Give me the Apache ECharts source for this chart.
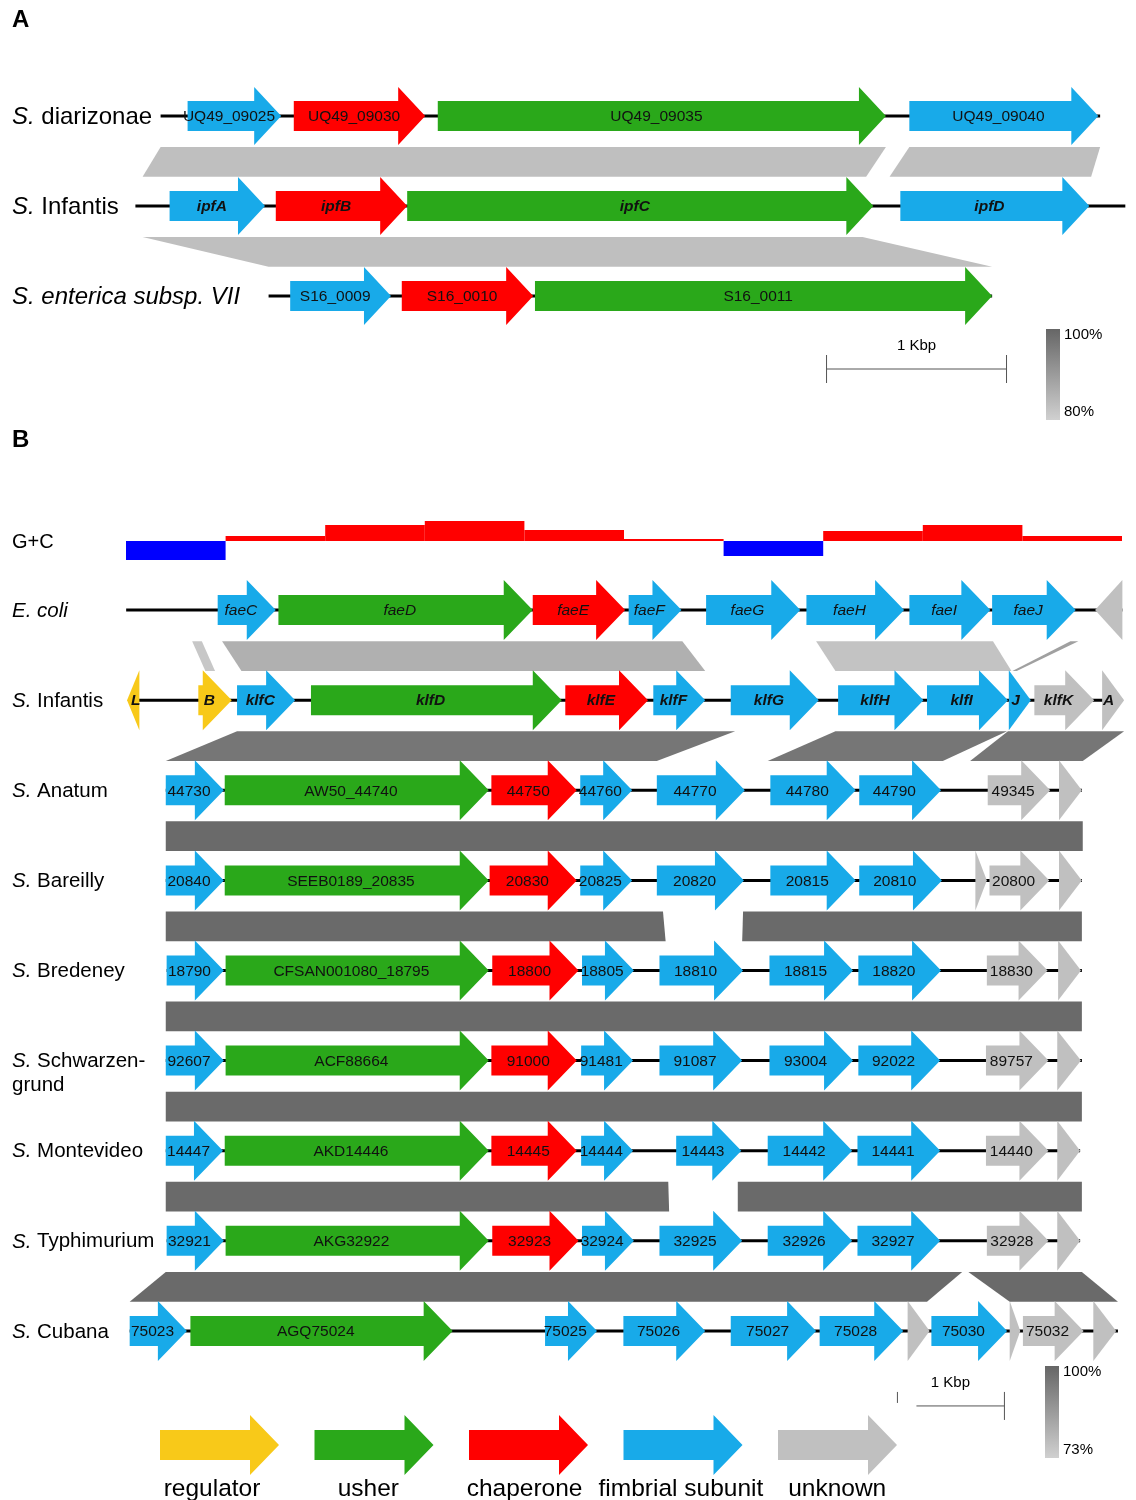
<!DOCTYPE html>
<html>
<head>
<meta charset="utf-8">
<title>ipf / klf fimbrial gene clusters</title>
<script src="https://cdn.jsdelivr.net/npm/echarts@6/dist/echarts.min.js"></script>
<style>
html, body { margin: 0; padding: 0; background: #fff; }
#chart { width: 1136px; height: 1500px; }
</style>
</head>
<body>
<div id="chart"></div>
<script>
var FONT = 'Liberation Sans, Arial, sans-serif';

// gene class colours
var typeColors = { reg: '#f8c919', ush: '#2aa81a', cha: '#ff0000', fim: '#18aae9', unk: '#c0c0c0' };
var legendTypes = ['reg', 'ush', 'cha', 'fim', 'unk'];
var legendNames = ['regulator', 'usher', 'chaperone', 'fimbrial subunit', 'unknown'];

// ---------- panel A : positions in bp ----------
var rowsA = ['{i|S.}{n| diarizonae}', '{i|S.}{n| Infantis}', '{i|S. enterica subsp. VII}'];
var linesA = [[170, 5390], [30, 5530], [770, 4790]];
var geneFontA = ['plain', 'bolditalic', 'plain'];
var diarizonaeGenes = [
    ['UQ49_09025', 320, 840, 'fim'],
    ['UQ49_09030', 910, 1640, 'cha'],
    ['UQ49_09035', 1710, 4200, 'ush'],
    ['UQ49_09040', 4330, 5380, 'fim']
];
var infantisAGenes = [
    ['ipfA', 220, 750, 'fim'],
    ['ipfB', 810, 1540, 'cha'],
    ['ipfC', 1540, 4130, 'ush'],
    ['ipfD', 4280, 5330, 'fim']
];
var enterica7Genes = [
    ['S16_0009', 890, 1450, 'fim'],
    ['S16_0010', 1510, 2240, 'cha'],
    ['S16_0011', 2250, 4790, 'ush']
];
// [upper row, top start, top end, bottom start, bottom end, identity %]
var bandsA = [
    [0, 170, 4200, 70, 4090, 83],
    [0, 4330, 5390, 4220, 5340, 83],
    [1, 70, 4070, 770, 4790, 83]
];
var scaleA = [3870, 4870];

// ---------- panel B ----------
var gcWindows = ['1', '2', '3', '4', '5', '6', '7', '8', '9', '10'];
var gcValues = [-1.9, 0.5, 1.6, 2.0, 1.1, 0.2, -1.5, 1.0, 1.6, 0.5];

var rowsB = ['{i|E. coli}', '{i|S.}{n| Infantis}', '{i|S.}{n| Anatum}', '{i|S.}{n| Bareilly}',
    '{i|S.}{n| Bredeney}', '{i|S.}{n| Schwarzen-}\n{n|grund}', '{i|S.}{n| Montevideo}',
    '{i|S.}{n| Typhimurium}', '{i|S.}{n| Cubana}'];
var linesB = [[70, 11390], [110, 11390], [520, 10930], [520, 10930], [530, 10930],
    [520, 10930], [520, 10910], [530, 10910], [110, 11340]];
var geneFontB = ['italic', 'bolditalic', 'plain', 'plain', 'plain', 'plain', 'plain', 'plain', 'plain'];

var ecoliGenes = [
    ['faeC', 1110, 1770, 'fim'], ['faeD', 1800, 4690, 'ush'], ['faeE', 4690, 5740, 'cha'],
    ['faeF', 5780, 6380, 'fim'], ['faeG', 6660, 7730, 'fim'], ['faeH', 7800, 8910, 'fim'],
    ['faeI', 8970, 9890, 'fim'], ['faeJ', 9910, 10860, 'fim'], ['', 11080, 11390, 'unk', -1]
];
var infantisBGenes = [
    ['L', 80, 220, 'reg', -1], ['B', 890, 1270, 'reg'], ['klfC', 1330, 1990, 'fim'],
    ['klfD', 2170, 5020, 'ush'], ['klfE', 5060, 6000, 'cha'], ['klfF', 6060, 6650, 'fim'],
    ['klfG', 6940, 7940, 'fim'], ['klfH', 8160, 9130, 'fim'], ['klfI', 9170, 10090, 'fim'],
    ['J', 10100, 10350, 'fim'], ['klfK', 10390, 11070, 'unk'], ['A', 11160, 11410, 'unk']
];
var anatumGenes = [
    ['44730', 520, 1180, 'fim'], ['AW50_44740', 1190, 4190, 'ush'], ['44750', 4220, 5190, 'cha'],
    ['44760', 5230, 5820, 'fim'], ['44770', 6100, 7100, 'fim'], ['44780', 7390, 8360, 'fim'],
    ['44790', 8400, 9330, 'fim'], ['49345', 9860, 10570, 'unk'], ['', 10670, 10930, 'unk']
];
var bareillyGenes = [
    ['20840', 520, 1180, 'fim'], ['SEEB0189_20835', 1190, 4190, 'ush'], ['20830', 4200, 5190, 'cha'],
    ['20825', 5230, 5820, 'fim'], ['20820', 6100, 7090, 'fim'], ['20815', 7390, 8360, 'fim'],
    ['20810', 8400, 9340, 'fim'], ['', 9720, 9850, 'unk'], ['20800', 9880, 10560, 'unk'],
    ['', 10670, 10930, 'unk']
];
var bredeneyGenes = [
    ['18790', 530, 1180, 'fim'], ['CFSAN001080_18795', 1200, 4190, 'ush'], ['18800', 4230, 5210, 'cha'],
    ['18805', 5250, 5840, 'fim'], ['18810', 6130, 7080, 'fim'], ['18815', 7380, 8330, 'fim'],
    ['18820', 8390, 9330, 'fim'], ['18830', 9850, 10540, 'unk'], ['', 10660, 10920, 'unk']
];
var schwarzGenes = [
    ['92607', 520, 1180, 'fim'], ['ACF88664', 1200, 4190, 'ush'], ['91000', 4220, 5190, 'cha'],
    ['91481', 5240, 5830, 'fim'], ['91087', 6130, 7070, 'fim'], ['93004', 7380, 8330, 'fim'],
    ['92022', 8390, 9320, 'fim'], ['89757', 9840, 10550, 'unk'], ['', 10650, 10920, 'unk']
];
var montevideoGenes = [
    ['14447', 520, 1170, 'fim'], ['AKD14446', 1190, 4190, 'ush'], ['14445', 4220, 5190, 'cha'],
    ['14444', 5240, 5830, 'fim'], ['14443', 6320, 7060, 'fim'], ['14442', 7360, 8320, 'fim'],
    ['14441', 8380, 9320, 'fim'], ['14440', 9840, 10550, 'unk'], ['', 10650, 10910, 'unk']
];
var typhimuriumGenes = [
    ['32921', 530, 1180, 'fim'], ['AKG32922', 1200, 4190, 'ush'], ['32923', 4230, 5210, 'cha'],
    ['32924', 5250, 5840, 'fim'], ['32925', 6130, 7070, 'fim'], ['32926', 7360, 8320, 'fim'],
    ['32927', 8380, 9320, 'fim'], ['32928', 9850, 10550, 'unk'], ['', 10650, 10910, 'unk']
];
var cubanaGenes = [
    ['75023', 110, 760, 'fim'], ['AGQ75024', 800, 3780, 'ush'], ['75025', 4830, 5420, 'fim'],
    ['75026', 5720, 6650, 'fim'], ['75027', 6940, 7910, 'fim'], ['75028', 7950, 8900, 'fim'],
    ['', 8950, 9200, 'unk'], ['75030', 9220, 10080, 'fim'], ['', 10110, 10230, 'unk'],
    ['75032', 10260, 10950, 'unk'], ['', 11060, 11320, 'unk']
];
var bandsB = [
    [0, 820, 930, 970, 1080, 75],
    [0, 1160, 6390, 1380, 6650, 81],
    [0, 7910, 9920, 8130, 10130, 76],
    [0, 10800, 10890, 10140, 10190, 85],
    [1, 1330, 6990, 520, 6100, 96],
    [1, 8130, 10080, 7360, 9350, 96],
    [1, 10090, 11410, 9660, 10940, 96],
    [2, 520, 10940, 520, 10940, 99],
    [3, 520, 6170, 520, 6200, 99],
    [3, 7080, 10930, 7070, 10930, 99],
    [4, 520, 10930, 520, 10930, 99],
    [5, 520, 10930, 520, 10930, 99],
    [6, 520, 6230, 520, 6240, 99],
    [6, 7020, 10930, 7020, 10930, 99],
    [7, 520, 9570, 110, 9170, 99],
    [7, 9640, 10930, 10110, 11340, 99]
];
var scaleB = [9050, 10050];

function flatten(rows, fonts) {
    var out = [];
    rows.forEach(function (genes, r) {
        genes.forEach(function (g) {
            out.push({ label: g[0], start: g[1], end: g[2], type: g[3], dir: g[4] || 1, row: r, font: fonts[r] });
        });
    });
    return out;
}
var genesA = flatten([diarizonaeGenes, infantisAGenes, enterica7Genes], geneFontA);
var genesB = flatten([ecoliGenes, infantisBGenes, anatumGenes, bareillyGenes, bredeneyGenes,
    schwarzGenes, montevideoGenes, typhimuriumGenes, cubanaGenes], geneFontB);

var sizesA = { head: 27, body: 15, tip: 29 };
var sizesB = { head: 29, body: 15, tip: 30 };

function arrowPoints(x0, x1, y, dir, s) {
    var h = Math.min(s.head, x1 - x0);
    if (dir > 0) {
        var hx = x1 - h;
        return [[x0, y - s.body], [hx, y - s.body], [hx, y - s.tip], [x1, y],
            [hx, y + s.tip], [hx, y + s.body], [x0, y + s.body]];
    }
    var rx = x0 + h;
    return [[x1, y - s.body], [rx, y - s.body], [rx, y - s.tip], [x0, y],
        [rx, y + s.tip], [rx, y + s.body], [x1, y + s.body]];
}

function geneLayer(genes, gi, s) {
    return {
        type: 'custom', xAxisIndex: gi, yAxisIndex: gi, z: 3, silent: true,
        data: genes.map(function (g) { return [g.start, g.end, g.row]; }),
        encode: { x: [0, 1], y: 2 },
        renderItem: function (params, api) {
            var g = genes[params.dataIndex];
            var a = api.coord([g.start, g.row]);
            var b = api.coord([g.end, g.row]);
            return {
                type: 'polygon',
                shape: { points: arrowPoints(a[0], b[0], a[1], g.dir, s) },
                style: { fill: typeColors[g.type] }
            };
        }
    };
}

function labelLayer(genes, gi, s) {
    return {
        type: 'custom', xAxisIndex: gi, yAxisIndex: gi, z: 5, silent: true,
        data: genes.map(function (g) { return [g.start, g.end, g.row]; }),
        encode: { x: [0, 1], y: 2 },
        renderItem: function (params, api) {
            var g = genes[params.dataIndex];
            var a = api.coord([g.start, g.row]);
            var b = api.coord([g.end, g.row]);
            var h = Math.min(s.head, b[0] - a[0]);
            var cx = g.dir > 0 ? (a[0] + b[0] - 0.4 * h) / 2 : (a[0] + b[0] + 0.4 * h) / 2;
            return {
                type: 'text',
                style: {
                    text: g.label, x: cx, y: a[1] + 1, align: 'center', verticalAlign: 'middle',
                    fill: '#111', fontSize: 15.5, fontFamily: FONT,
                    fontStyle: g.font === 'plain' ? 'normal' : 'italic',
                    fontWeight: g.font === 'bolditalic' ? 'bold' : 'normal'
                }
            };
        }
    };
}

function trackLayer(names, lines, gi, fs, lh) {
    var rich = {
        i: { fontStyle: 'italic', fontSize: fs, fontFamily: FONT, fill: '#000', lineHeight: lh },
        n: { fontStyle: 'normal', fontSize: fs, fontFamily: FONT, fill: '#000', lineHeight: lh }
    };
    return {
        type: 'custom', xAxisIndex: gi, yAxisIndex: gi, z: 2, silent: true,
        data: lines.map(function (l, i) { return [l[0], l[1], i]; }),
        encode: { x: [0, 1], y: 2 },
        renderItem: function (params, api) {
            var i = params.dataIndex;
            var a = api.coord([lines[i][0], i]);
            var b = api.coord([lines[i][1], i]);
            return {
                type: 'group',
                children: [
                    { type: 'line', shape: { x1: a[0], y1: a[1], x2: b[0], y2: b[1] },
                        style: { stroke: '#000', lineWidth: 3 } },
                    { type: 'text', style: { text: names[i], x: 12, y: a[1] - lh / 2 + 1,
                        align: 'left', verticalAlign: 'top', rich: rich,
                        fontSize: fs, fontFamily: FONT, lineHeight: lh } }
                ]
            };
        }
    };
}

function identityGray(id, lo) {
    var v = Math.round(207 - (id - lo) / (100 - lo) * 105);
    return 'rgb(' + v + ',' + v + ',' + v + ')';
}

function bandLayer(bands, gi, lo) {
    return {
        type: 'custom', xAxisIndex: gi, yAxisIndex: gi, z: 1, silent: true,
        data: bands.map(function (b) { return [b[1], b[2], b[0]]; }),
        encode: { x: [0, 1], y: 2 },
        renderItem: function (params, api) {
            var b = bands[params.dataIndex];
            var rowH = api.size([0, 1])[1];
            var c = api.coord([0, b[0]]);
            var yt = c[1] + 0.345 * rowH, yb = c[1] + 0.675 * rowH;
            return {
                type: 'polygon',
                shape: { points: [
                    [api.coord([b[1], b[0]])[0], yt], [api.coord([b[2], b[0]])[0], yt],
                    [api.coord([b[4], b[0]])[0], yb], [api.coord([b[3], b[0]])[0], yb]
                ] },
                style: { fill: identityGray(b[5], lo) }
            };
        }
    };
}

function scaleLayer(sc, gi, row, off, textOff, leftTick) {
    return {
        type: 'custom', xAxisIndex: gi, yAxisIndex: gi, z: 2, silent: true,
        data: [[sc[0], sc[1], row]],
        encode: { x: [0, 1], y: 2 },
        renderItem: function (params, api) {
            var a = api.coord([sc[0], row]);
            var b = api.coord([sc[1], row]);
            var y = a[1] + off;
            var kids = [
                { type: 'line', shape: { x1: a[0], y1: y, x2: b[0], y2: y }, style: { stroke: '#555', lineWidth: 1 } },
                { type: 'line', shape: { x1: b[0], y1: y - 14, x2: b[0], y2: y + 14 }, style: { stroke: '#555', lineWidth: 1 } },
                { type: 'text', style: { text: '1 Kbp', x: (a[0] + b[0]) / 2 - (leftTick ? 0 : 10), y: a[1] + textOff,
                    align: 'center', verticalAlign: 'middle', fontSize: 15, fontFamily: FONT, fill: '#000' } }
            ];
            if (leftTick) {
                kids.push({ type: 'line', shape: { x1: a[0], y1: y - 14, x2: a[0], y2: y + 14 }, style: { stroke: '#555', lineWidth: 1 } });
            } else {
                kids.push({ type: 'line', shape: { x1: a[0] - 19, y1: y - 14, x2: a[0] - 19, y2: y - 3 }, style: { stroke: '#555', lineWidth: 1 } });
            }
            return { type: 'group', children: kids };
        }
    };
}

// legend arrows + identity gradients
var graphics = [
    { type: 'text', left: 12, top: 8, style: { text: 'A', fontSize: 24, fontWeight: 'bold', fontFamily: FONT, fill: '#000' } },
    { type: 'text', left: 12, top: 428, style: { text: 'B', fontSize: 24, fontWeight: 'bold', fontFamily: FONT, fill: '#000' } },
    { type: 'text', left: 12, top: 532, style: { text: 'G+C', fontSize: 20, fontFamily: FONT, fill: '#000' } }
];
function gradientBar(x, y, h, top, bottom) {
    graphics.push({ type: 'rect', shape: { x: x, y: y, width: 14, height: h },
        style: { fill: new echarts.graphic.LinearGradient(0, 0, 0, 1, [
            { offset: 0, color: '#666666' }, { offset: 1, color: '#d0d0d0' }]) } });
    graphics.push({ type: 'text', x: x + 18, y: y - 2, style: { text: top, fontSize: 15, fontFamily: FONT, fill: '#000' } });
    graphics.push({ type: 'text', x: x + 18, y: y + h - 16, style: { text: bottom, fontSize: 15, fontFamily: FONT, fill: '#000' } });
}
gradientBar(1046, 329, 91, '100%', '80%');
gradientBar(1045, 1366, 92, '100%', '73%');
legendTypes.forEach(function (t, i) {
    var x0 = 160 + i * 154.5, x1 = x0 + 119, y = 1445;
    graphics.push({ type: 'polygon', shape: { points: arrowPoints(x0, x1, y, 1, sizesB) },
        style: { fill: typeColors[t] } });
    graphics.push({ type: 'text', x: 212 + i * 156.3, y: 1489,
        style: { text: legendNames[i], align: 'center', verticalAlign: 'middle',
            fontSize: 24.5, fontFamily: FONT, fill: '#000' } });
});

var chart = echarts.init(document.getElementById('chart'));
var option = {
    animation: false,
    backgroundColor: '#fff',
    grid: [
        { left: 130, width: 1000, top: 71, height: 270 },
        { left: 120, width: 1016, top: 565, height: 811 },
        { left: 126, width: 996, top: 501, height: 80 }
    ],
    xAxis: [
        { type: 'value', gridIndex: 0, min: 0, max: 5556, show: false },
        { type: 'value', gridIndex: 1, min: 0, max: 11545, show: false },
        { type: 'category', gridIndex: 2, data: gcWindows, show: false }
    ],
    yAxis: [
        { type: 'category', gridIndex: 0, data: rowsA, inverse: true, show: false },
        { type: 'category', gridIndex: 1, data: rowsB, inverse: true, show: false },
        { type: 'value', gridIndex: 2, min: -4, max: 4, show: false }
    ],
    graphic: graphics,
    series: [
        bandLayer(bandsA, 0, 80),
        trackLayer(rowsA, linesA, 0, 24, 28),
        geneLayer(genesA, 0, sizesA),
        labelLayer(genesA, 0, sizesA),
        scaleLayer(scaleA, 0, 2, 73, 50, true),
        bandLayer(bandsB, 1, 73),
        trackLayer(rowsB, linesB, 1, 20.5, 24),
        geneLayer(genesB, 1, sizesB),
        labelLayer(genesB, 1, sizesB),
        scaleLayer(scaleB, 1, 8, 75, 52, false),
        {
            type: 'bar', xAxisIndex: 2, yAxisIndex: 2, data: gcValues, silent: true,
            barCategoryGap: '0%',
            itemStyle: { color: function (p) { return p.value < 0 ? '#0000ff' : '#ff0000'; } }
        }
    ]
};
chart.setOption(option);
window.addEventListener('resize', function () { chart.resize(); });
</script>
</body>
</html>
